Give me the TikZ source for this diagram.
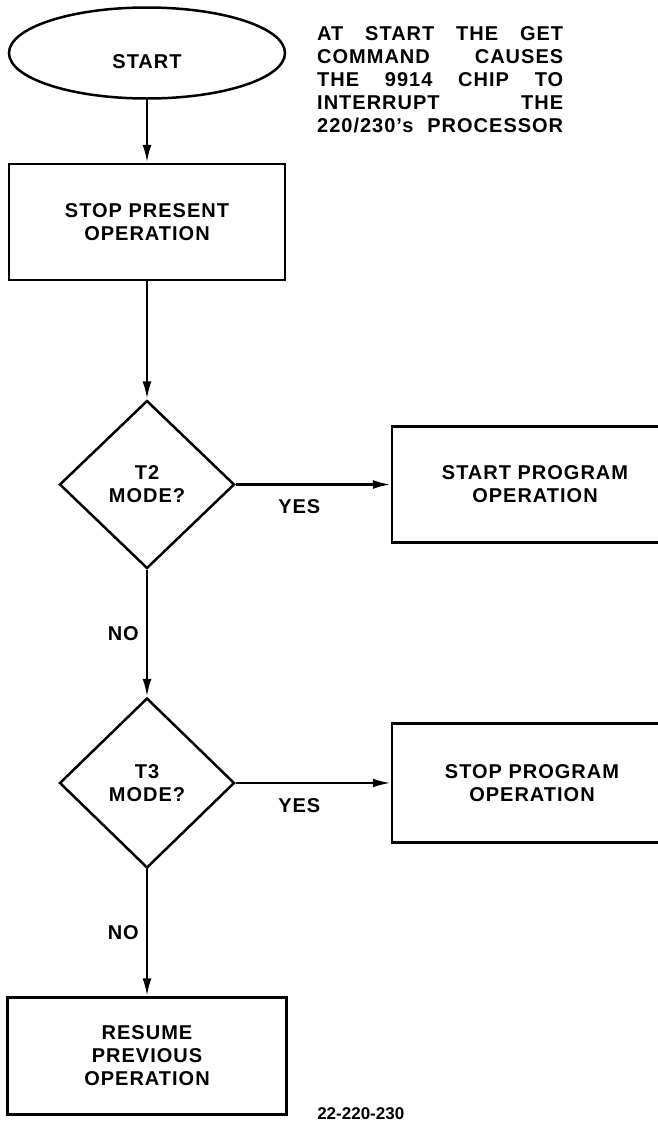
\documentclass[tikz,border=0pt]{standalone}
\usepackage{fontspec}
\setmainfont{Liberation Sans}[LetterSpace=5]
\newfontfamily\plainfont{Liberation Sans}
\usetikzlibrary{shapes,arrows.meta,positioning}

\begin{document}
\begin{tikzpicture}
[x=1pt,y=-1pt,
font=\bfseries\fontsize{20}{23}\selectfont,
terminal/.style={shape=ellipse,draw=black,line width=2.5pt,minimum width=276pt,minimum height=91pt,inner sep=0pt},
process/.style={shape=rectangle,draw=black,line width=2.5pt,minimum width=276pt,minimum height=116pt,align=center},
decision/.style={shape=diamond,draw=black,line width=2.5pt,minimum width=175pt,minimum height=168pt,inner sep=0pt,align=center},
flow/.style={->,>={Latex[length=18pt,width=9pt]},line width=2.5pt},
answer/.style={inner sep=3pt},
note/.style={anchor=north west,inner sep=0pt}]

\useasboundingbox (0,0) rectangle (658,1122);
\clip (0,0) rectangle (658,1122);

\node (start) [terminal,text height=30pt,text depth=0pt] at (147,53) {START};
\node (note) [note] at (317,26) {\parbox{246pt}{\parfillskip=0pt AT START THE GET\linebreak
COMMAND CAUSES\linebreak THE 9914 CHIP TO\linebreak INTERRUPT THE\linebreak 220/230's PROCESSOR}};
\node (stop) [process,below=63pt of start] {STOP PRESENT\\OPERATION};
\node (t2) [decision,below=118pt of stop] {T2\\MODE?};
\node (progstart) [process,right=155pt of t2,minimum width=286pt] {START PROGRAM\\OPERATION};
\node (t3) [decision,below=127pt of t2,minimum height=170pt] {T3\\MODE?};
\node (progstop) [process,right=155pt of t3,minimum width=280pt,minimum height=119pt] {STOP PROGRAM\\OPERATION};
\node (resume) [process,below=127pt of t3,minimum width=279pt,minimum height=117pt] {RESUME\\PREVIOUS\\OPERATION};
\node (figno) [right=26pt of resume.south east,yshift=2pt,font=\plainfont\bfseries\fontsize{17}{17}\selectfont] {22-220-230};

\draw[flow] (start) -- (stop);
\draw[flow] (stop) -- (t2);
\draw[flow] (t2) -- node[answer,below=11pt,pos=0.41] (yes2) {YES} (progstart);
\draw[flow] (t2) -- node[answer,left=4pt] (no2) {NO} (t3);
\draw[flow] (t3) -- node[answer,below=11pt,pos=0.41] (yes3) {YES} (progstop);
\draw[flow] (t3) -- node[answer,left=4pt] (no3) {NO} (resume);

\end{tikzpicture}
\end{document}
